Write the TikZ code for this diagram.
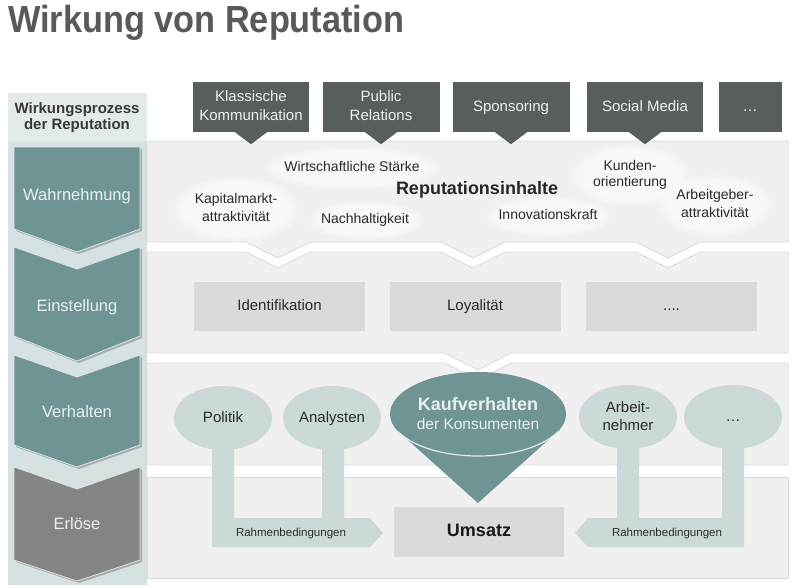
\documentclass[tikz,border=0pt]{standalone}
\usepackage{fontspec}
\setmainfont{Liberation Sans}
\newfontfamily\titlefont[FakeStretch=0.91]{Liberation Sans}
\usetikzlibrary{shapes.geometric,fadings}
\definecolor{titlegray}{HTML}{595959}
\definecolor{colbg}{HTML}{D6E1E1}
\definecolor{headbg}{HTML}{E3EAEA}
\definecolor{chevteal}{HTML}{6F9494}
\definecolor{chevgray}{HTML}{848484}
\definecolor{chevtext}{HTML}{E9F0F0}
\definecolor{boxdark}{HTML}{585D5D}
\definecolor{bandfill}{HTML}{F0F0F0}
\definecolor{bandline}{HTML}{D9D9D9}
\definecolor{boxlight}{HTML}{DADADA}
\definecolor{elllight}{HTML}{CCD9D9}
\definecolor{txtdark}{HTML}{2A2A2A}
\begin{document}
\begin{tikzpicture}[x=1pt,y=-1pt,
    band/.style={fill=bandfill,draw=bandline,line width=.8pt},
    glow/.style={white,opacity=.55,path fading=circle with fuzzy edge 20 percent},
    chevlabel/.style={font=\fontsize{16.5}{20}\selectfont,text=chevtext,text height=12pt,text depth=3.5pt},
    topbox/.style={fill=boxdark,text=white!88!gray,font=\fontsize{15}{19}\selectfont,
      align=center,minimum height=50pt,inner sep=0pt,text height=11pt,text depth=3pt},
    lbl/.style={font=\fontsize{14}{18}\selectfont,text=txtdark,align=center,inner sep=0pt,
      text height=10pt,text depth=3pt},
    twoline/.style={text height=#1},
    graybox/.style={fill=boxlight,minimum width=171pt,minimum height=49pt,
      font=\fontsize{15}{18}\selectfont,text=txtdark,text height=11pt,text depth=3pt},
    bubble/.style={ellipse,fill=elllight,minimum width=98pt,minimum height=64pt,
      inner sep=0pt,font=\fontsize{15}{18}\selectfont,text=txtdark,align=center,
      text height=11pt,text depth=3pt},
    small/.style={font=\fontsize{11.5}{14}\selectfont,text=txtdark,inner sep=0pt,
      text height=8.5pt,text depth=2.5pt}]
  \fill[white] (0,0) rectangle (800,587);
  \useasboundingbox (0,0) rectangle (800,587);

  % title
  \node[anchor=base west,inner sep=0pt,text=titlegray,
    font=\titlefont\bfseries\fontsize{37.7}{40}\selectfont] (title) at (8,32) {Wirkung von Reputation};

  % left column with the process chevrons
  \fill[colbg] (8,93) rectangle (147,585);
  \fill[headbg] (8,93) rectangle (147,142);
  \node[align=center,font=\bfseries\fontsize{15}{16}\selectfont,text=black!78] (head) at (77,118)
    {Wirkungsprozess\\der Reputation};
  \foreach \t/\n/\b/\p/\c in {147/147/229/252/chevteal,247/269/336/361/chevteal,
      355/377/445/467/chevteal,467/489/560/581/chevgray}{
    \fill[black,opacity=.22] (16,\t+2) -- (79,\n+2) -- (142,\t+2) -- (142,\b+2) -- (79,\p+2) -- (16,\b+2) -- cycle;
    \fill[\c,draw=white!75!\c,line width=.8pt] (14,\t) -- (77,\n) -- (140,\t) -- (140,\b) -- (77,\p) -- (14,\b) -- cycle;
  }
  \node[chevlabel] (wahr) at (77,196) {Wahrnehmung};
  \node[chevlabel] (einst) at (77,307) {Einstellung};
  \node[chevlabel] (verh) at (77,413) {Verhalten};
  \node[chevlabel] (erl) at (77,525) {Erlöse};

  % bands
  \draw[band] (147,141) -- (788,141) -- (788,242) -- (700,242) -- (668,258) -- (636,242)
    -- (505,242) -- (473,258) -- (441,242) -- (310,242) -- (278,258) -- (246,242) -- (147,242) -- cycle;
  \draw[band] (147,252) -- (246,252) -- (278,268) -- (310,252) -- (441,252) -- (473,268) -- (505,252)
    -- (636,252) -- (668,268) -- (700,252) -- (788,252) -- (788,353) -- (511,353) -- (478,370)
    -- (445,353) -- (147,353) -- cycle;
  \draw[band] (147,363) -- (445,363) -- (478,380) -- (511,363) -- (788,363) -- (788,465) -- (147,465) -- cycle;
  \draw[band] (147,477) rectangle (788,578);

  % channels
  \foreach \n/\cx/\w/\h/\t in {kk/251/116/30/{Klassische\\Kommunikation},pr/381/117/30/{Public\\Relations},
      sp/511/117/11/Sponsoring,sm/645/116/11/Social Media,md/750/63/11/…}
    \node[topbox,minimum width=\w pt,text height=\h pt] (\n) at (\cx,107) {\t};
  \foreach \n in {kk,pr,sp,sm}
    \fill[boxdark] ([xshift=-16pt]\n.south) -- ([yshift=-12pt]\n.south) -- ([xshift=16pt]\n.south) -- cycle;

  % reputation contents
  \fill[glow] (236,209) ellipse (66 and 34);
  \fill[glow] (352,168) ellipse (90 and 22);
  \fill[glow] (365,220) ellipse (60 and 20);
  \fill[glow] (630,175) ellipse (62 and 32);
  \fill[glow] (548,216) ellipse (66 and 20);
  \fill[glow] (715,205) ellipse (60 and 32);
  \node[lbl] (wirt) at (352,168) {Wirtschaftliche Stärke};
  \node[lbl,twoline=28pt] (kap) at (236,209) {Kapitalmarkt-\\attraktivität};
  \node[lbl] (nach) at (365,220) {Nachhaltigkeit};
  \node[lbl,font=\bfseries\fontsize{18}{20}\selectfont,text=black!85,text height=13pt,text depth=4pt]
    (repu) at (477,190) {Reputationsinhalte};
  \node[lbl,font=\fontsize{14}{16}\selectfont,twoline=26pt] (kund) at (630,175) {Kunden-\\orientierung};
  \node[lbl] (inno) at (548,216) {Innovationskraft};
  \node[lbl,twoline=28pt] (arbg) at (715,205) {Arbeitgeber-\\attraktivität};

  % attitude
  \node[graybox] (ident) at (279.5,306) {Identifikation};
  \node[graybox] (loyal) at (475,306) {Loyalität};
  \node[graybox] (etc) at (671.5,306) {....};

  % behaviour
  \fill[elllight] (212,547) -- (212,440) -- (234,440) -- (234,518) -- (322,518) -- (322,440) -- (344,440)
    -- (344,518) -- (370,518) -- (383,533) -- (370,547) -- cycle;
  \fill[elllight] (744,547) -- (744,440) -- (722,440) -- (722,518) -- (639,518) -- (639,440) -- (617,440)
    -- (617,518) -- (588,518) -- (575,533) -- (588,547) -- cycle;
  \node[bubble] (politik) at (223,418) {Politik};
  \node[bubble] (analyst) at (332,418) {Analysten};
  \node[bubble,twoline=29pt] (arbeit) at (628,417) {Arbeit-\\nehmer};
  \node[bubble] (more) at (733,417) {…};
  \fill[chevteal] (400,433) -- (556,433) -- (478,503) -- cycle;
  \node[ellipse,fill=chevteal,minimum width=176pt,minimum height=84pt] (kauf) at (478,414) {};
  \draw[white!80!chevteal,line width=1.2pt] (kauf.center) ++(25:88 and 42)
    arc[start angle=25,end angle=155,x radius=88,y radius=42];
  \node[font=\bfseries\fontsize{18}{20}\selectfont,text=chevtext,inner sep=0pt,text height=13pt,text depth=4pt]
    (kauft) at (478,406) {Kaufverhalten};
  \node[font=\fontsize{15.5}{18}\selectfont,text=chevtext,inner sep=0pt,text height=11pt,text depth=3pt]
    (kaufs) at (478,425) {der Konsumenten};

  % revenue
  \node[fill=boxlight,minimum width=170pt,minimum height=50pt,text height=13pt,text depth=4pt,
    font=\bfseries\fontsize{18}{20}\selectfont,text=black!90] (umsatz) at (479,532) {Umsatz};
  \node[small] (rahmenl) at (291,533) {Rahmenbedingungen};
  \node[small] (rahmenr) at (667,533) {Rahmenbedingungen};
\end{tikzpicture}
\end{document}
